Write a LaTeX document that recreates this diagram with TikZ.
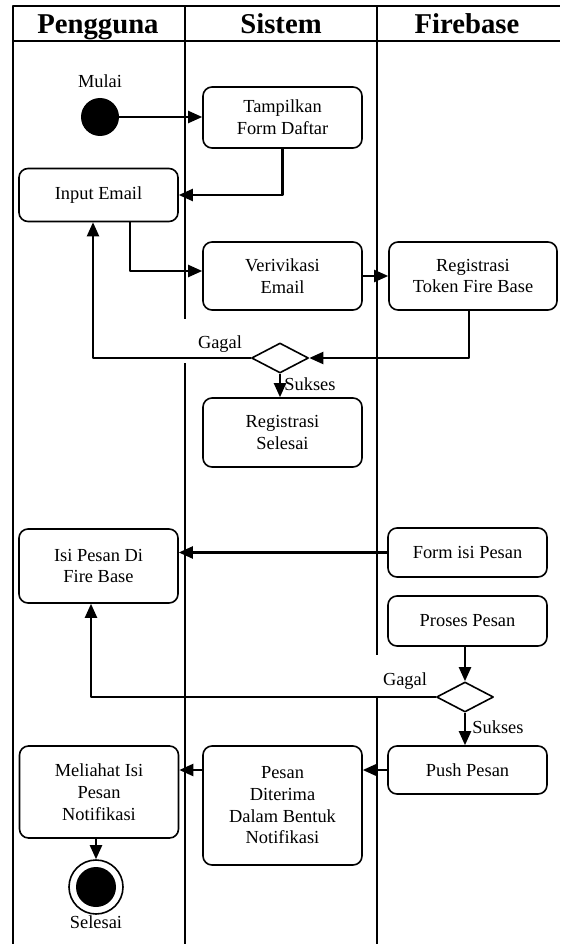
\documentclass[tikz,border=0pt]{standalone}
\usepackage{fontspec}
\setmainfont{Liberation Serif}
\usepackage{tikz}
\usetikzlibrary{arrows.meta, shapes.geometric, positioning}

\begin{document}
\begin{tikzpicture}[x=1pt,y=-1pt,>={Triangle[length=14pt,width=12pt]},line join=round,
  act/.style={draw, line width=1.6pt, rounded corners=9pt, align=center, inner sep=0pt,
    font=\fontsize{18.4}{21.7}\selectfont},
  dec/.style={draw, diamond, line width=1.6pt, minimum width=57pt, minimum height=30pt, inner sep=0pt},
  flow/.style={line width=2.2pt, ->},
  lbl/.style={font=\fontsize{18.4}{21.7}\selectfont, inner sep=0pt, anchor=base},
  lane/.style={line width=2pt},
  head/.style={font=\bfseries\fontsize{28.7}{30}\selectfont, inner sep=0pt, anchor=base}]
  \useasboundingbox (0,0) rectangle (560,944);

  % lanes
  \draw[lane] (13,944) -- (13,6) -- (560,6);
  \draw[lane] (13,41) -- (560,41);
  \draw[lane] (185,6) -- (185,319);
  \draw[lane] (185,363) -- (185,944);
  \draw[lane] (377,6) -- (377,655);
  \draw[lane] (377,698) -- (377,944);

  % headers
  \node[head] (hpeng) at (98,33.5) {Pengguna};
  \node[head] (hsis) at (281,33.5) {Sistem};
  \node[head] (hfire) at (467,33.5) {Firebase};

  % start
  \node[circle, fill, minimum size=38pt, inner sep=0pt] (start) at (100,117) {};
  \node[lbl] (mulai) at (100,88) {Mulai};

  % activities
  \node[act, minimum width=159pt, minimum height=61pt] (tampil) at (282.5,117.5) {Tampilkan\\Form Daftar};
  \node[act, minimum width=159pt, minimum height=53pt] (input) at (98.5,195) {Input Email};
  \node[act, minimum width=159pt, minimum height=68pt] (verif) at (282.5,276) {Verivikasi\\Email};
  \node[act, minimum width=168pt, minimum height=68pt] (token) at (473,276) {Registrasi\\Token Fire Base};
  \node[dec] (cek1) at (280,358) {};
  \node[act, minimum width=159pt, minimum height=69pt] (regsel) at (282.5,432.5) {Registrasi\\Selesai};
  \node[act, minimum width=159pt, minimum height=74pt] (isi) at (98.5,566) {Isi Pesan Di\\Fire Base};
  \node[act, minimum width=159pt, minimum height=49pt] (form) at (467.5,552.5) {Form isi Pesan};
  \node[act, minimum width=159pt, minimum height=50pt] (proses) at (467.5,621) {Proses Pesan};
  \node[dec] (cek2) at (465,697) {};
  \node[act, minimum width=159pt, minimum height=48pt] (push) at (467.5,770) {Push Pesan};
  \node[act, minimum width=159pt, minimum height=119pt] (terima) at (282.5,805.5) {Pesan\\Diterima\\Dalam Bentuk\\Notifikasi};
  \node[act, minimum width=159pt, minimum height=92pt] (lihat) at (99,792) {Meliahat Isi\\Pesan\\Notifikasi};

  % end
  \node[circle, draw, line width=1.6pt, minimum size=54pt, inner sep=0pt] (stop) at (96,887) {};
  \node[circle, fill, minimum size=40pt, inner sep=0pt] (stopdot) at (stop.center) {};
  \node[lbl] (selesai) at (96,928) {Selesai};

  % flows
  \draw[flow] (start.east) -- (start.east -| tampil.west);
  \draw[flow] (tampil.south) |- (input.east);
  \draw[flow] ([xshift=31.5pt]input.south) |- ([yshift=5pt]verif.west);
  \draw[flow] (verif.east) -- (token.west);
  \draw[flow] ([xshift=-4pt]token.south) |- (cek1.east);
  \draw[flow] (cek1.west) -| ([xshift=-5.5pt]input.south);
  \draw[flow] (cek1.south) -- (cek1.south |- regsel.north);
  \draw[flow] (form.west) -- (form.west -| isi.east);
  \draw[flow] (proses.south -| cek2.north) -- (cek2.north);
  \draw[flow] (cek2.west) -| ([xshift=-7.5pt]isi.south);
  \draw[flow] (cek2.south) -- (cek2.south |- push.north);
  \draw[flow] (push.west) -- (push.west -| terima.east);
  \draw[flow] (terima.west |- push.west) -- (push.west -| lihat.east);
  \draw[flow] (lihat.south -| stop.north) -- (stop.north);

  % labels
  \node[lbl] (gagal1) at (220,348) {Gagal};
  \node[lbl] (sukses1) at (310,390) {Sukses};
  \node[lbl] (gagal2) at (405,685) {Gagal};
  \node[lbl] (sukses2) at (498,733) {Sukses};
\end{tikzpicture}
\end{document}
